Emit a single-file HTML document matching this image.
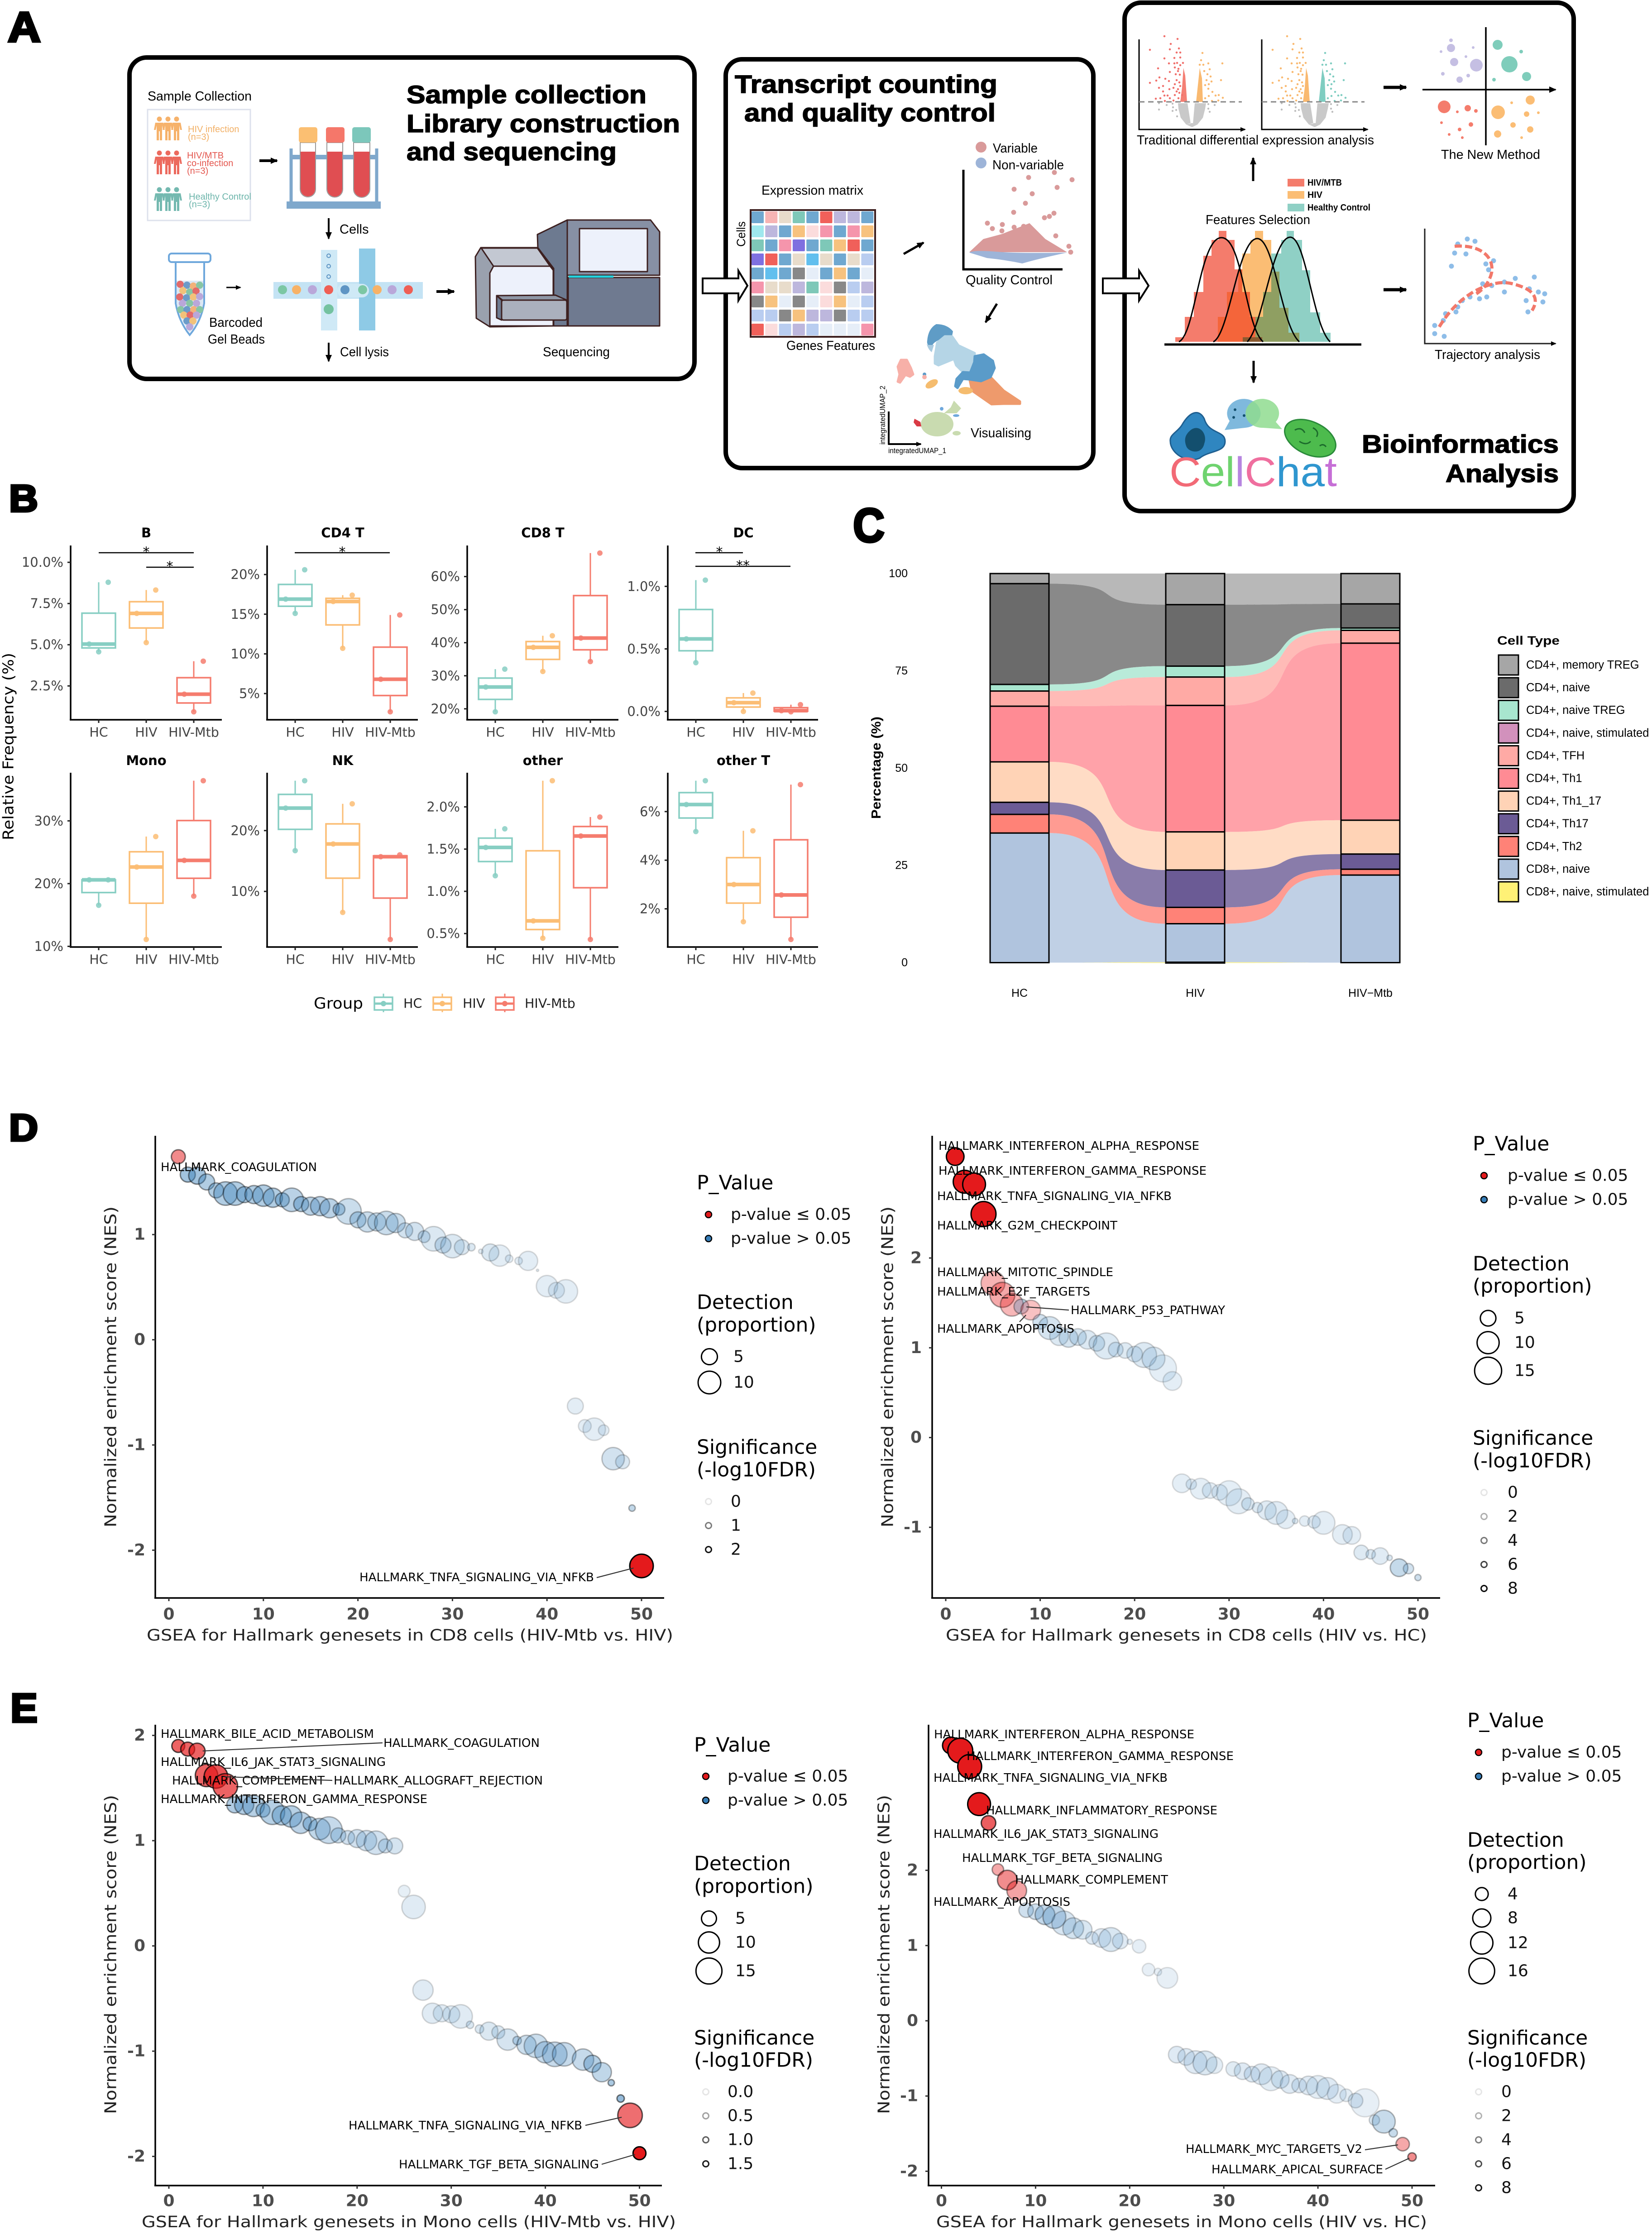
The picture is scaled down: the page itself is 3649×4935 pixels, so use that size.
<!DOCTYPE html>
<html lang="en">
<head>
<meta charset="utf-8">
<title>Single-cell analysis of HIV and HIV-Mtb co-infection</title>
<style>
html,body{margin:0;padding:0;background:#fff}
svg{display:block;font-family:"Liberation Sans",sans-serif}
.hv{font-weight:bold;stroke:#000;stroke-width:1.6;fill:#000}
.letter{font-weight:bold;stroke:#000;stroke-width:5;fill:#000}
</style>
</head>
<body>
<svg id="root" xmlns="http://www.w3.org/2000/svg" width="3649" height="4935" viewBox="0 0 3649 4935">
<defs>
<marker id="ah" markerUnits="userSpaceOnUse" markerWidth="20" markerHeight="20" refX="14" refY="8" orient="auto"><path d="M0 1L16 8L0 15Z" fill="#000"/></marker>
<marker id="ahs" markerUnits="userSpaceOnUse" markerWidth="14" markerHeight="12" refX="10" refY="6" orient="auto"><path d="M0 1L12 6L0 11Z" fill="#000"/></marker>
<g id="person"><circle cx="0" cy="5" r="5.5"/><path d="M-9 13H9L12 29H8L6 19V52H1V32H-1V52H-6V19L-8 29H-12Z"/></g>
<g id="trio"><use href="#person" x="-19"/><use href="#person" x="0"/><use href="#person" x="19"/></g>
<path id="vdots-left" fill="none" stroke-width="4.6" stroke-linecap="round" d="M2540 110h0M2572 80h0M2601 86h0M2586 97h0M2604 107h0M2584 109h0M2599 116h0M2607 116h0M2572 129h0M2594 128h0M2607 127h0M2582 140h0M2594 140h0M2600 139h0M2607 144h0M2613 139h0M2558 151h0M2595 149h0M2603 152h0M2584 159h0M2602 157h0M2597 164h0M2561 171h0M2574 174h0M2554 178h0M2582 179h0M2540 183h0M2599 177h0M2605 182h0M2595 186h0M2569 190h0M2560 194h0M2583 197h0M2592 194h0M2602 197h0M2569 202h0M2599 202h0M2572 211h0M2579 211h0M2584 217h0M2595 210h0M2553 218h0M2563 217h0M2573 223h0M2592 222h0M2603 217h0M2606 165h0M2607 190h0M2605 205h0M2611 210h0"/>
<path id="vdots-right" fill="none" stroke-width="4.6" stroke-linecap="round" d="M2656 117h0M2653 133h0M2650 143h0M2658 143h0M2669 140h0M2700 140h0M2672 153h0M2660 157h0M2667 164h0M2674 169h0M2665 177h0M2697 177h0M2676 180h0M2670 186h0M2662 188h0M2669 196h0M2678 203h0M2685 211h0M2692 210h0M2701 216h0M2670 212h0M2662 217h0M2691 222h0M2677 223h0"/>
<g id="vgray"><path d="M2623 228L2630 273L2620 275L2608 260L2603 240L2602 228ZM2639 228L2635 273L2645 275L2657 260L2662 240L2664 228ZM2620 275L2633 281L2645 275L2635 272L2630 272Z" fill="#c9c9c9"/><path fill="none" stroke="#bdbdbd" stroke-width="4.4" stroke-linecap="round" d="M2560 228h0M2560 242h0M2577 232h0M2590 229h0M2591 237h0M2590 245h0M2598 243h0M2600 257h0M2669 230h0M2669 240h0M2672 247h0M2683 232h0"/></g>
</defs>
<rect x="0" y="0" width="3649" height="4935" fill="#fff"/>

<!-- PANEL A -->
<g id="panel-a">
<text class="letter" x="17" y="92" font-size="94" textLength="73" lengthAdjust="spacingAndGlyphs">A</text>

<rect x="286" y="127" width="1248" height="710" rx="38" fill="#fff" stroke="#000" stroke-width="10"/>
<text x="326" y="222" font-size="29" textLength="230" lengthAdjust="spacingAndGlyphs">Sample Collection</text>
<rect x="326" y="242" width="227" height="245" fill="#fff" stroke="#dde1ec" stroke-width="3"/>
<use href="#trio" x="371" y="258" fill="#f6b26b"/>
<use href="#trio" x="371" y="333" fill="#ec6a5e"/>
<use href="#trio" x="371" y="414" fill="#74b9b0"/>
<text x="415" y="292" font-size="20" fill="#f2b066">HIV infection</text>
<text x="415" y="309" font-size="20" fill="#f2b066">(n=3)</text>
<text x="413" y="350" font-size="20" fill="#e4574f">HIV/MTB</text>
<text x="413" y="367" font-size="20" fill="#e4574f">co-infection</text>
<text x="413" y="384" font-size="20" fill="#e4574f">(n=3)</text>
<text x="417" y="441" font-size="20" fill="#6db5ab">Healthy Control</text>
<text x="417" y="458" font-size="20" fill="#6db5ab">(n=3)</text>
<path d="M573 355H612" stroke="#000" stroke-width="6" marker-end="url(#ah)"/>

<g>
<path d="M643 328V450M832 328V450" stroke="#7fa8cc" stroke-width="7"/>
<rect x="640" y="342" width="195" height="10" fill="#7fa8cc"/>
<rect x="633" y="445" width="208" height="16" fill="#7fa8cc"/>
<path d="M663 315H697V418a17 17 0 0 1-34 0Z" fill="#fff" stroke="#999" stroke-width="2"/>
<path d="M722 315H757V418a17 17 0 0 1-35 0Z" fill="#fff" stroke="#999" stroke-width="2"/>
<path d="M781 315H817V418a18 18 0 0 1-36 0Z" fill="#fff" stroke="#999" stroke-width="2"/>
<path d="M664 335H696V418a16 16 0 0 1-32 0Z" fill="#e04e52"/>
<path d="M723 335H756V418a16 16 0 0 1-33 0Z" fill="#e04e52"/>
<path d="M782 335H816V418a17 17 0 0 1-34 0Z" fill="#e04e52"/>
<rect x="660" y="281" width="41" height="34" rx="5" fill="#fbbf72"/>
<rect x="720" y="281" width="41" height="34" rx="5" fill="#f5776a"/>
<rect x="778" y="281" width="41" height="34" rx="5" fill="#7cc7bb"/>
</g>
<path d="M726 482V527" stroke="#000" stroke-width="4" marker-end="url(#ah)"/>
<text x="750" y="516" font-size="29">Cells</text>

<g>
<rect x="373" y="560" width="92" height="19" rx="6" fill="#fff" stroke="#6fa8dc" stroke-width="4"/>
<path d="M388 579V670Q395 710 419 740Q444 710 451 670V579Z" fill="#fff" stroke="#6fa8dc" stroke-width="4"/>
<path d="M390 620H449V670Q442 705 419 735Q397 705 390 670Z" fill="#dbe7f3"/>
<g>
<circle cx="398" cy="628" r="8" fill="#e26a6a"/><circle cx="413" cy="630" r="8" fill="#6c9bc9"/><circle cx="427" cy="632" r="8" fill="#f2b27a"/><circle cx="441" cy="630" r="8" fill="#87c5a4"/>
<circle cx="404" cy="642" r="8" fill="#f2c27a"/><circle cx="419" cy="645" r="8" fill="#87c5a4"/><circle cx="433" cy="643" r="8" fill="#e26a6a"/>
<circle cx="397" cy="656" r="8" fill="#e26a6a"/><circle cx="412" cy="658" r="8" fill="#6c9bc9"/><circle cx="427" cy="656" r="8" fill="#f2c27a"/><circle cx="441" cy="655" r="8" fill="#b9a7d9"/>
<circle cx="403" cy="670" r="8" fill="#b9a7d9"/><circle cx="419" cy="670" r="8" fill="#87c5a4"/><circle cx="434" cy="670" r="8" fill="#b9a7d9"/>
<circle cx="399" cy="684" r="8" fill="#87c5a4"/><circle cx="413" cy="684" r="8" fill="#6c9bc9"/><circle cx="428" cy="684" r="8" fill="#f2b27a"/><circle cx="441" cy="684" r="8" fill="#87c5a4"/>
<circle cx="406" cy="696" r="8" fill="#f2c27a"/><circle cx="420" cy="696" r="8" fill="#e26a6a"/><circle cx="434" cy="696" r="8" fill="#b9a7d9"/>
<circle cx="413" cy="709" r="8" fill="#6c9bc9"/><circle cx="426" cy="709" r="8" fill="#f2c27a"/><circle cx="419" cy="722" r="8" fill="#b9a7d9"/>
</g>
</g>
<text x="462" y="722" font-size="29" textLength="118" lengthAdjust="spacingAndGlyphs">Barcoded</text>
<text x="459" y="759" font-size="29" textLength="126" lengthAdjust="spacingAndGlyphs">Gel Beads</text>
<path d="M500 635H531" stroke="#000" stroke-width="3" marker-end="url(#ahs)"/>

<g>
<rect x="604" y="623" width="330" height="37" fill="#c4e3f4"/>
<rect x="709" y="552" width="36" height="178" fill="#cfe9f6"/>
<rect x="793" y="549" width="36" height="181" fill="#8ecae6"/>
<rect x="745" y="627" width="70" height="30" rx="15" fill="#cfe9f6"/>
<circle cx="624" cy="640" r="10" fill="#7cc7a4"/><circle cx="655" cy="640" r="10" fill="#f7b267"/><circle cx="690" cy="640" r="10" fill="#b9a7d9"/><circle cx="726" cy="640" r="10" fill="#ef5f55"/><circle cx="762" cy="640" r="10" fill="#5f95c4"/><circle cx="801" cy="640" r="10" fill="#7cc7a4"/><circle cx="833" cy="640" r="10" fill="#f7b267"/><circle cx="866" cy="640" r="10" fill="#b9a7d9"/><circle cx="902" cy="640" r="10" fill="#ef5f55"/>
<circle cx="726" cy="565" r="4" fill="none" stroke="#5f95c4" stroke-width="2"/><circle cx="726" cy="588" r="4" fill="none" stroke="#5f95c4" stroke-width="2"/><circle cx="726" cy="611" r="4" fill="none" stroke="#5f95c4" stroke-width="2"/>
<circle cx="726" cy="683" r="11" fill="#74c2a0"/>
</g>
<path d="M964 644H1003" stroke="#000" stroke-width="6" marker-end="url(#ah)"/>

<g stroke="#3d2020" stroke-width="3" stroke-linejoin="round">
<path d="M1187 518L1253 486V720H1223V593L1188 547Z" fill="#6d7a90"/>
<path d="M1253 486H1437L1457 512V608H1253Z" fill="#8790a4"/>
<rect x="1280" y="505" width="150" height="95" fill="#edf1fb"/>
<rect x="1255" y="613" width="202" height="107" fill="#6f7a90"/>
<path d="M1256 611H1355" stroke="#22d3e0" stroke-width="5" fill="none"/>
<path d="M1050 567L1062 547H1187L1222 593V720L1082 722L1052 703Z" fill="#9aa1ae"/>
<path d="M1063 548H1187L1215 588H1090Z" fill="#c3c8d2"/>
<path d="M1082 603L1090 588H1215L1222 597V720H1082Z" fill="#edf1fb"/>
<path d="M1097 653L1227 652L1252 663H1110Z" fill="#8e96a5"/>
<path d="M1097 653L1108 663V707L1097 702Z" fill="#6d7a90"/>
<rect x="1108" y="663" width="144" height="44" rx="4" fill="#aab0bd"/>
</g>
<text x="1199" y="787" font-size="29" textLength="148" lengthAdjust="spacingAndGlyphs">Sequencing</text>
<path d="M726 757V798" stroke="#000" stroke-width="4" marker-end="url(#ah)"/>
<text x="751" y="787" font-size="29" textLength="108" lengthAdjust="spacingAndGlyphs">Cell lysis</text>

<text class="hv" x="898" y="228" font-size="56" textLength="530" lengthAdjust="spacingAndGlyphs">Sample collection</text>
<text class="hv" x="898" y="292" font-size="56" textLength="604" lengthAdjust="spacingAndGlyphs">Library construction</text>
<text class="hv" x="898" y="354" font-size="56" textLength="464" lengthAdjust="spacingAndGlyphs">and sequencing</text>

<rect x="1603" y="131" width="812" height="903" rx="36" fill="#fff" stroke="#000" stroke-width="10"/>
<path d="M1552 615H1631V598L1651 631L1631 664V648H1552Z" fill="#fff" stroke="#000" stroke-width="4"/>
<text class="hv" x="1623" y="205" font-size="56" textLength="580" lengthAdjust="spacingAndGlyphs">Transcript counting</text>
<text class="hv" x="1644" y="268" font-size="56" textLength="555" lengthAdjust="spacingAndGlyphs">and quality control</text>
<text x="1682" y="430" font-size="29" textLength="225" lengthAdjust="spacingAndGlyphs">Expression matrix</text>
<g id="matrix"></g>
<text x="0" y="0" font-size="27" transform="translate(1646,545) rotate(-90)" textLength="56" lengthAdjust="spacingAndGlyphs">Cells</text>
<text x="1737" y="773" font-size="29" textLength="196" lengthAdjust="spacingAndGlyphs">Genes Features</text>
<path d="M1996 561L2040 536" stroke="#000" stroke-width="5" marker-end="url(#ah)"/>
<circle cx="2167" cy="325" r="12" fill="#d99a9a"/>
<text x="2193" y="337" font-size="29" textLength="99" lengthAdjust="spacingAndGlyphs">Variable</text>
<circle cx="2167" cy="360" r="12" fill="#9db4d8"/>
<text x="2192" y="374" font-size="29" textLength="158" lengthAdjust="spacingAndGlyphs">Non-variable</text>
<g>
<path d="M2128 375V595H2347" fill="none" stroke="#000" stroke-width="5"/>
<path d="M2141 557L2172 528L2213 517L2274 493L2309 528L2357 557Z" fill="#d99a9a"/>
<path d="M2141 558Q2150 552 2200 556T2357 558Q2300 570 2258 582Q2220 574 2180 570Z" fill="#9db4d8"/>
<path fill="none" stroke="#d99a9a" stroke-width="11" stroke-linecap="round" d="M2329 381h0M2368 397h0M2272 392h0M2240 418h0M2335 414h0M2280 428h0M2265 449h0M2328 471h0M2239 469h0M2318 478h0M2307 481h0M2181 493h0M2214 496h0M2192 505h0M2213 510h0M2332 521h0M2361 544h0M2365 557h0M2240 502h0M2261 500h0"/>
</g>
<text x="2133" y="628" font-size="29" textLength="192" lengthAdjust="spacingAndGlyphs">Quality Control</text>
<path d="M2202 671L2177 712" stroke="#000" stroke-width="5" marker-end="url(#ah)"/>
<g stroke-linejoin="round" stroke-width="5">
<path d="M2050 762L2063 762L2058 778Q2050 772 2047 760Z" fill="#a9cbe0"/>
<path d="M2048 753Q2050 726 2068 716Q2092 716 2105 732L2103 742Q2085 745 2072 752Q2062 757 2060 762L2050 762Q2047 758 2048 753Z" fill="#5f9cc6"/>
<path d="M2070 757L2087 743H2103L2117 763L2153 780L2152 800L2143 823L2127 822L2112 807L2107 793L2073 807L2065 803V787Z" fill="#b5d5e6" stroke="#b5d5e6"/>
<path d="M2142 840L2167 842L2190 835L2217 863L2253 887V892H2217L2190 893L2147 863Z" fill="#ee9a6c" stroke="#ee9a6c"/>
<path d="M2153 787L2173 783L2193 797L2197 813L2188 833L2167 842L2140 838L2127 837L2115 857L2110 853L2113 837L2127 822L2143 823L2152 800Z" fill="#5a9bc9" stroke="#5a9bc9"/>
<ellipse cx="2133" cy="863" rx="16" ry="8" fill="#f5bc6e"/>
<path d="M1983 810L1990 795H2003L2012 813L2017 827L2010 832L2000 828L1988 845L1983 843L1987 827Z" fill="#f7b0a8" stroke="#f7b0a8"/>
<circle cx="2042" cy="827" r="4" fill="#5a9bc9"/><circle cx="2042" cy="833" r="5" fill="#f7b0a8"/>
<ellipse cx="2058" cy="848" rx="15" ry="8" transform="rotate(-30 2058 848)" fill="#f5bc6e"/>
<ellipse cx="2070" cy="937" rx="36" ry="27" fill="#c9dbb0"/>
<path d="M2107 885L2123 902L2113 913H2085L2100 900Z" fill="#c9dbb0"/>
<ellipse cx="2113" cy="957" rx="9" ry="5" fill="#c9dbb0"/>
<circle cx="2080" cy="903" r="4" fill="#6fa8dc"/><ellipse cx="2112" cy="918" rx="7" ry="3" fill="#6fa8dc"/>
<path d="M2020 925L2033 932L2035 942H2025L2018 933Z" fill="#d93a45"/>
<path d="M1963 909V981H2034" fill="none" stroke="#000" stroke-width="4" marker-end="url(#ahs)"/>
<text x="0" y="0" font-size="17" transform="translate(1955,982) rotate(-90)" textLength="130" lengthAdjust="spacingAndGlyphs">integratedUMAP_2</text>
<text x="1962" y="1001" font-size="17" textLength="128" lengthAdjust="spacingAndGlyphs">integratedUMAP_1</text>
</g>
<text x="2144" y="966" font-size="29" textLength="134" lengthAdjust="spacingAndGlyphs">Visualising</text>

<rect x="2484" y="6" width="992" height="1123" rx="36" fill="#fff" stroke="#000" stroke-width="10"/>
<path d="M2436 615H2516V598L2537 631L2516 664V648H2436Z" fill="#fff" stroke="#000" stroke-width="4"/>
<g>
<path d="M2614 150L2618 167L2622 225H2607L2611 193Z" fill="#f47f74"/><path d="M2650 150L2642 225H2657L2655 173Z" fill="#f9b970"/>
<use href="#vdots-left" stroke="#f0706c"/><use href="#vdots-right" stroke="#f9b970"/><use href="#vgray"/>
<path d="M2516 87V286H2750" fill="none" stroke="#000" stroke-width="3" marker-end="url(#ahs)"/>
<path d="M2516 225H2743" stroke="#888" stroke-width="3" stroke-dasharray="12 8"/>
</g>
<g>
<g transform="translate(271,0)"><path d="M2614 150L2618 167L2622 225H2607L2611 193Z" fill="#f9b970"/><path d="M2650 150L2642 225H2657L2655 173Z" fill="#7fcdc1"/>
<use href="#vdots-left" stroke="#f9b970"/><use href="#vdots-right" stroke="#7fcdc1"/><use href="#vgray"/>
<path d="M2516 87V286H2750" fill="none" stroke="#000" stroke-width="3" marker-end="url(#ahs)"/>
<path d="M2516 225H2743" stroke="#888" stroke-width="3" stroke-dasharray="12 8"/></g>
</g>
<text x="2511" y="319" font-size="29" textLength="524" lengthAdjust="spacingAndGlyphs">Traditional differential expression analysis</text>
<path d="M3056 193H3106" stroke="#000" stroke-width="7" marker-end="url(#ah)"/>
<g>
<path d="M3282 321V60M3142 198H3436" stroke="#000" stroke-width="3.5" marker-end="url(#ah)" fill="none"/>
<g fill="#c5bfe3"><circle cx="3205" cy="106" r="9"/><circle cx="3212" cy="137" r="9"/><circle cx="3261" cy="144" r="14"/><circle cx="3224" cy="176" r="7"/><circle cx="3187" cy="163" r="4"/><circle cx="3243" cy="167" r="4"/><circle cx="3238" cy="125" r="3"/><circle cx="3254" cy="105" r="3"/><circle cx="3183" cy="114" r="3"/><circle cx="3205" cy="89" r="4"/></g>
<g fill="#7fcdbb"><circle cx="3308" cy="99" r="11"/><circle cx="3334" cy="142" r="18"/><circle cx="3372" cy="169" r="10"/><circle cx="3360" cy="114" r="4"/><circle cx="3300" cy="176" r="4"/></g>
<g fill="#f47c6c"><circle cx="3190" cy="236" r="14"/><circle cx="3242" cy="239" r="7"/><circle cx="3260" cy="245" r="4"/><circle cx="3219" cy="247" r="3"/><circle cx="3249" cy="275" r="5"/><circle cx="3224" cy="286" r="4"/><circle cx="3184" cy="271" r="3"/><circle cx="3201" cy="297" r="3"/><circle cx="3230" cy="304" r="3"/></g>
<g fill="#fbbd74"><circle cx="3309" cy="248" r="15"/><circle cx="3380" cy="221" r="10"/><circle cx="3372" cy="252" r="6"/><circle cx="3342" cy="276" r="6"/><circle cx="3380" cy="286" r="7"/><circle cx="3308" cy="296" r="8"/><circle cx="3361" cy="304" r="3"/><circle cx="3398" cy="249" r="3"/><circle cx="3339" cy="227" r="3"/></g>
</g>
<text x="3183" y="351" font-size="29" textLength="219" lengthAdjust="spacingAndGlyphs">The New Method</text>
<path d="M2768 400V349" stroke="#000" stroke-width="5" marker-end="url(#ah)"/>
<rect x="2844" y="395" width="37" height="17" fill="#f47c6c"/>
<rect x="2844" y="422" width="37" height="17" fill="#fbbd74"/>
<rect x="2844" y="450" width="37" height="17" fill="#8fd0c5"/>
<text x="2888" y="410" font-size="20" textLength="76" lengthAdjust="spacingAndGlyphs" font-weight="bold">HIV/MTB</text>
<text x="2888" y="437" font-size="20" textLength="33" lengthAdjust="spacingAndGlyphs" font-weight="bold">HIV</text>
<text x="2888" y="465" font-size="20" textLength="139" lengthAdjust="spacingAndGlyphs" font-weight="bold">Healthy Control</text>
<text x="2663" y="495" font-size="29" textLength="231" lengthAdjust="spacingAndGlyphs">Features Selection</text>
<g>
<path d="M2596 755V745H2617V700H2637V645H2658V565H2676V530H2692V510H2709V530H2727V595H2744V645H2761V700H2777V745H2788V755Z" fill="#f47c6c"/>
<path d="M2706 755V700H2724V645H2744V560H2762V530H2772V510H2790V530H2808V600H2826V680H2846V735H2870V755Z" fill="#fbbd74"/>
<path d="M2754 755V745H2773V700H2790V645H2808V560H2830V530H2842V510H2858V530H2876V597H2894V690H2916V735H2939V755Z" fill="#8fd0c5"/>
<path d="M2690 755V700H2710V645H2735V595H2744V645H2761V700H2777V745H2788V755Z" fill="#f4653a"/>
<path d="M2762 755V745H2773V700H2790V645H2808V600H2826V680H2846V735H2870V755Z" fill="#8f9f62"/>
<path d="M2745 755V745H2788V755Z" fill="#8a5a30"/>
<path d="M2604 755C2640 740 2650 525 2698 525C2745 525 2750 720 2790 755M2680 755C2715 740 2735 527 2777 527C2815 527 2830 720 2870 755M2755 755C2790 720 2810 524 2850 524C2885 524 2900 720 2938 755" fill="none" stroke="#000" stroke-width="3"/>
<path d="M2572 761H3007" stroke="#000" stroke-width="5"/>
</g>
<path d="M3056 640H3106" stroke="#000" stroke-width="7" marker-end="url(#ah)"/>
<g>
<path d="M3147 505V759H3436" fill="none" stroke="#222" stroke-width="3" marker-end="url(#ahs)"/>
<path fill="none" stroke="#8ebde8" stroke-width="11" stroke-linecap="round" d="M3220 539h0M3241 528h0M3258 533h0M3213 559h0M3238 561h0M3282 583h0M3299 576h0M3206 588h0M3288 596h0M3275 627h0M3295 631h0M3323 623h0M3347 615h0M3389 612h0M3378 638h0M3412 649h0M3408 667h0M3371 664h0M3375 689h0M3247 656h0M3268 660h0M3284 656h0M3230 664h0M3220 678h0M3193 693h0M3216 689h0M3188 708h0M3169 719h0M3169 737h0M3190 743h0M3323 645h0M3398 645h0"/>
<path d="M3213 544C3260 540 3300 560 3295 601C3290 625 3275 640 3261 649" fill="none" stroke="#f2786a" stroke-width="7" stroke-dasharray="16 7"/>
<path d="M3179 722C3205 680 3230 660 3254 645C3290 625 3320 620 3345 628C3390 640 3400 660 3384 686" fill="none" stroke="#f2786a" stroke-width="7" stroke-dasharray="16 7"/>
</g>
<text x="3169" y="793" font-size="29" textLength="233" lengthAdjust="spacingAndGlyphs">Trajectory analysis</text>
<path d="M2769 797V845" stroke="#000" stroke-width="5" marker-end="url(#ah)"/>
<g>
<path d="M2610 940C2630 905 2650 905 2660 925C2670 960 2706 950 2706 975C2706 1000 2670 995 2650 1012C2620 1025 2585 1000 2585 975C2583 960 2600 955 2610 940Z" fill="#2f86c0" stroke="#1f5f90" stroke-width="3"/>
<path d="M2630 950C2650 935 2668 960 2660 980C2655 1005 2625 1000 2620 985C2615 970 2618 960 2630 950Z" fill="#134f6e"/>
<path d="M2705 950L2716 930A37 32 0 1 1 2750 945Z" fill="#7fb9dd"/>
<path d="M2832 948L2818 932A37 32 0 1 0 2790 945Z" fill="#8fdc8f" fill-opacity=".85"/>
<circle cx="2728" cy="905" r="3" fill="#134f6e"/><circle cx="2748" cy="918" r="3" fill="#134f6e"/><circle cx="2725" cy="922" r="3" fill="#134f6e"/>
<ellipse cx="2894" cy="968" rx="60" ry="36" transform="rotate(25 2894 968)" fill="#4dbb4d" stroke="#2a8a3a" stroke-width="3"/>
<path d="M2860 950q15 -8 22 6M2900 945q15 8 8 20M2870 975q15 10 25 0M2915 985q8 -6 14 2" fill="none" stroke="#1c6b2c" stroke-width="3"/>
</g>
<text x="2583" y="1074" font-size="92" textLength="370" lengthAdjust="spacingAndGlyphs"><tspan fill="#f26a76">C</tspan><tspan fill="#6fd36f">e</tspan><tspan fill="#6fd36f">l</tspan><tspan fill="#b685e0">l</tspan><tspan fill="#ef6f9f">C</tspan><tspan fill="#2f96cf">h</tspan><tspan fill="#2f96cf">a</tspan><tspan fill="#c66fd6">t</tspan></text>
<text class="hv" x="3008" y="1000" font-size="56" textLength="435" lengthAdjust="spacingAndGlyphs">Bioinformatics</text>
<text class="hv" x="3193" y="1065" font-size="56" textLength="250" lengthAdjust="spacingAndGlyphs">Analysis</text>
</g>

<!-- LETTERS -->
<text class="letter" x="20" y="1130" font-size="84" textLength="64" lengthAdjust="spacingAndGlyphs">B</text>
<text class="letter" x="1884" y="1197" font-size="106" textLength="70" lengthAdjust="spacingAndGlyphs">C</text>
<text class="letter" x="20" y="2520" font-size="84" textLength="64" lengthAdjust="spacingAndGlyphs">D</text>
<text class="letter" x="23" y="3804" font-size="90" textLength="60" lengthAdjust="spacingAndGlyphs">E</text>

<g id="panel-b"></g>
<g id="panel-c"></g>
<g id="panel-d1"></g>
<g id="panel-d2"></g>
<g id="panel-e1"></g>
<g id="panel-e2"></g>
</svg>

<script>
/* ===== Panel B data ===== */
const boxGroups = ['HC', 'HIV', 'HIV-Mtb'];
const boxFacets = ['B', 'CD4 T', 'CD8 T', 'DC', 'Mono', 'NK', 'other', 'other T'];
const samplesB = [[4.57, 5.04, 8.79], [5.13, 6.9, 8.32], [0.93, 2.0, 4.0]];
const samplesCD4 = [[15.1, 16.9, 20.6], [10.7, 16.6, 17.4], [2.7, 6.8, 14.9]];
const samplesCD8 = [[19.1, 26.6, 32.0], [31.3, 38.6, 42.1], [34.3, 41.4, 67.1]];
const samplesDC = [[0.39, 0.58, 1.05], [0.0, 0.07, 0.147], [-0.003, 0.006, 0.054]];
const samplesMono = [[16.55, 20.6, 20.6], [11.1, 22.65, 27.5], [18.0, 23.7, 36.4]];
const samplesNK = [[16.7, 23.7, 28.2], [6.55, 17.8, 24.4], [2.1, 15.7, 16.0]];
const samplesOther = [[1.185, 1.52, 1.74], [0.445, 0.65, 2.31], [0.43, 1.655, 1.88]];
const samplesOtherT = [[5.18, 6.29, 7.27], [1.47, 3.0, 5.21], [0.74, 2.57, 7.11]];
const boxSamples = [samplesB, samplesCD4, samplesCD8, samplesDC, samplesMono, samplesNK, samplesOther, samplesOtherT];
const bracketTopValues = [10.56, 22.7, 67.1, 1.266, null, null, null, null];
const tickValues = [[2.5, 5, 7.5, 10], [5, 10, 15, 20], [20, 30, 40, 50, 60], [0, 0.5, 1], [10, 20, 30], [10, 20], [0.5, 1, 1.5, 2], [2, 4, 6]];
const tickLabels = [['2.5%', '5.0%', '7.5%', '10.0%'], ['5%', '10%', '15%', '20%'], ['20%', '30%', '40%', '50%', '60%'], ['0.0%', '0.5%', '1.0%'], ['10%', '20%', '30%'], ['10%', '20%'], ['0.5%', '1.0%', '1.5%', '2.0%'], ['2%', '4%', '6%']];

/* ===== Panel C data (percent, top of stack to bottom) ===== */
const cellTypes = ['CD4+, memory TREG', 'CD4+, naive', 'CD4+, naive TREG', 'CD4+, naive, stimulated', 'CD4+, TFH', 'CD4+, Th1', 'CD4+, Th1_17', 'CD4+, Th17', 'CD4+, Th2', 'CD8+, naive', 'CD8+, naive, stimulated'];
const alluvialGroups = ['HC', 'HIV', 'HIV\u2212Mtb'];
const pctHC = [2.6, 25.9, 1.7, 0, 3.9, 14.3, 10.4, 3.1, 4.8, 33.3, 0];
const pctHIV = [8.0, 15.8, 2.8, 0, 7.3, 32.5, 9.8, 9.6, 4.2, 9.9, 0.2];
const pctMtb = [7.8, 6.2, 0.6, 0, 3.3, 45.5, 8.7, 3.9, 1.5, 22.5, 0];
const percentTicks = [0, 25, 50, 75, 100];

/* ===== Panels D and E data (index = rank - 1) ===== */
const d1Nes = [1.74,1.57,1.56,1.50,1.42,1.39,1.39,1.38,1.38,1.37,1.35,1.33,1.33,1.29,1.27,1.27,1.25,1.24,1.22,1.14,1.12,1.12,1.11,1.11,1.04,1.03,.98,.96,.90,.89,.88,.88,.84,.83,.80,.77,.75,.75,.66,.51,.47,.46,-.63,-.82,-.85,-.86,-1.13,-1.16,-1.60,-2.15];
const d1Detection = [3.8,4.4,5.7,5.0,4.4,10.8,10.8,5.0,6.4,8.9,7.2,3.8,10.8,4.4,6.4,7.2,7.2,2.7,12.8,5.0,8.0,6.4,10.8,7.2,4.4,6.4,2.7,11.8,5.0,10.8,4.4,1.1,.4,5.7,8.9,1.1,1.1,7.2,.1,8.9,5.0,10.8,5.0,3.2,9.8,2.2,9.8,3.8,.8,10.8];
const d1Significance = [1.0,.9,.9,.7,.7,.7,.7,.7,.7,.7,.7,.7,.6,.7,.6,.6,.6,.6,.4,.5,.4,.4,.4,.4,.3,.3,.3,.2,.3,.2,.2,.2,.1,.2,.1,.1,.1,.1,.1,.1,.1,.1,.1,.1,.1,.1,.3,.2,.5,2.2];
const d1RedRanks = [1, 50];

const d2Nes = [3.13,2.85,2.82,2.49,1.72,1.59,1.48,1.46,1.42,1.29,1.22,1.13,1.11,1.12,1.09,1.05,1.02,.98,.97,.93,.92,.88,.77,.63,-.51,-.52,-.57,-.59,-.61,-.62,-.71,-.74,-.78,-.81,-.84,-.91,-.93,-.93,-.94,-.95,null,-1.08,-1.09,-1.28,-1.30,-1.32,-1.34,-1.45,-1.46,-1.56];
const d2Detection = [6.4,10.7,10.7,12.8,11.7,12.8,10.7,4.4,8.0,4.4,10.7,7.2,7.2,5.7,7.2,5.0,13.9,4.4,5.0,5.0,12.8,10.7,15.0,7.2,7.2,2.2,8.9,5.0,5.0,12.8,12.8,3.2,2.2,7.2,10.7,7.2,.6,2.2,3.2,10.7,null,8.0,6.4,4.4,1.8,5.7,.6,6.4,2.2,.8];
const d2Significance = [8.5,8.5,8.5,8.5,2.2,2.6,2,1.8,1.6,1.2,1,.7,1,.9,.7,.9,.7,.7,.6,.7,.7,.7,.3,.3,.3,.4,.3,.4,.4,.3,.4,.7,.6,.5,.5,.4,.6,.4,.5,.4,null,.4,.4,.6,.7,.5,.7,1.8,1.2,1.4];
const d2RedRanks = [1, 2, 3, 4, 5, 6, 7, 9];

const e1Nes = [1.90,1.87,1.85,1.62,1.61,1.52,1.34,1.34,1.33,1.29,1.27,1.24,1.23,1.17,1.16,1.11,1.10,1.05,1.03,1.02,1.0,.98,.95,.95,.52,.37,-.42,-.64,-.64,-.65,-.67,-.75,-.79,-.81,-.82,-.89,-.90,-.94,-.95,-1.01,-1.03,-1.03,null,-1.08,-1.12,-1.20,-1.30,-1.45,-1.61,-1.97];
const e1Detection = [3.7,4.3,5.7,11.2,12.3,13.4,5.7,8.2,10.2,4.3,13.4,8.2,10.2,10.2,4.3,10.2,15.9,5.0,4.3,7.3,9.2,12.3,4.3,5.7,3.1,12.3,9.2,9.2,6.5,6.5,12.3,1.2,1.6,7.3,3.7,10.2,1.6,8.2,12.3,10.2,13.4,12.3,null,10.2,6.5,8.2,.9,1.2,13.4,3.7];
const e1Significance = [1.1,1.1,1.1,1.1,1.2,1.1,.55,.55,.5,.5,.5,.5,.5,.45,.5,.4,.35,.3,.25,.25,.25,.25,.25,.2,.05,.1,.1,.1,.1,.1,.1,.15,.15,.15,.15,.2,.3,.3,.3,.35,.35,.35,null,.35,.5,.4,.6,.8,1.0,1.7];
const e1RedRanks = [1, 2, 3, 4, 5, 6, 49, 50];

const e2Nes = [3.66,3.59,3.38,2.88,2.63,2.01,1.87,1.73,1.47,1.45,1.41,1.38,1.30,1.23,1.21,1.10,1.10,1.08,1.06,1.05,.99,.68,.65,.57,-.45,-.48,-.55,-.56,-.59,null,-.64,-.67,-.71,-.71,-.77,-.78,-.84,-.86,-.86,-.88,-.90,-.97,-.99,-1.06,-1.09,-1.32,-1.34,-1.49,-1.64,-1.81];
const e2Detection = [6.7,15,13.8,12.6,5.1,3.2,9.4,9.4,5.1,5.9,9.4,12.6,13.8,10.4,8.5,3.8,8.5,13.8,5.9,.65,4.4,3.8,1.3,10.4,6.7,6.7,12.6,13.8,6.7,null,5.1,6.7,5.9,10.4,13.8,7.5,8.5,5.1,8.5,12.6,11.5,8.5,3.8,5.1,19,2.6,12.6,1.7,4.4,1.7];
const e2Significance = [9,9,9,9,6,2.8,4,3,1.4,1.4,2,2,1,1.2,.9,.7,.6,.9,.6,.3,.3,.2,.2,.2,.6,.6,.6,.8,.4,null,.5,.6,.7,.6,.4,.7,.6,.6,.6,.4,.6,.3,.4,.7,.2,.9,1.8,1.8,2.8,4];
const e2RedRanks = [1, 2, 3, 4, 5, 6, 7, 8, 49, 50];

const rankTicks = [0, 10, 20, 30, 40, 50];

/* ===== helpers ===== */
const NS = 'http://www.w3.org/2000/svg';
const DJ = '"DejaVu Sans",sans-serif';
const LS = '"Liberation Sans",sans-serif';

function mk(parent, tag, name, attrs) {
  const el = document.createElementNS(NS, tag);
  for (const k in attrs) { if (attrs[k] !== undefined) el.setAttribute(k, attrs[k]); }
  
  
  parent.appendChild(el);
  return el;
}
function line(parent, name, x1, y1, x2, y2, stroke, w) {
  return mk(parent, 'line', name, { x1: x1, y1: y1, x2: x2, y2: y2, stroke: stroke, 'stroke-width': w });
}
function txt(parent, name, s, x, y, o) {
  o = o || {};
  const el = mk(parent, 'text', name, {
    'font-family': o.fam || DJ, 'font-size': o.size || 29, 'font-weight': o.weight,
    'text-anchor': o.anchor || 'start', 'dominant-baseline': 'central', fill: o.fill || '#000',
    textLength: o.len, lengthAdjust: o.len ? 'spacingAndGlyphs' : undefined,
    x: o.rot ? 0 : x, y: o.rot ? 0 : y,
    transform: o.rot ? 'translate(' + x + ',' + y + ') rotate(' + o.rot + ')' : undefined
  });
  el.textContent = s;
  return el;
}

/* ===== Matrix illustration ===== */
(function () {
  const b = '#6fa8d0', p = '#f7b4b4', e = '#e8dccb', t = '#7ec8b8', r = '#f0605a', l = '#bdb7dd', c = '#9fe8ee', o = '#f7c27e', q = '#fbdcdc', k = '#f595ac', u = '#7f70e0', g = '#888888', w = '#e6eef8', s = '#62bfee', n = '#b9cdf0';
  const rows = [[b,p,e,t,b,r,l,l,b],[c,l,b,o,q,k,b,k,o],[t,b,k,u,b,t,o,r,b],[u,r,b,e,s,e,b,e,n],[b,s,b,g,w,b,o,b,w],[k,e,e,l,t,q,g,n,l],[g,o,w,g,w,q,o,w,n],[n,n,g,o,l,l,g,n,n],[r,q,n,l,n,w,w,w,k]];
  const host = document.getElementById('matrix');
  mk(host, 'rect', 'matrix-frame', { x: 1658, y: 464, width: 275, height: 280, fill: '#fff', stroke: '#3d2020', 'stroke-width': 4 });
  rows.forEach(function (row, i) {
    row.forEach(function (col, j) {
      mk(host, 'rect', 'matrix-cell', { x: 1660 + j * 30.3, y: 467 + i * 31, width: 27, height: 26, rx: 2, fill: col });
    });
  });
})();

/* ===== Panel B ===== */
(function () {
  const host = document.getElementById('panel-b');
  const colors = ['#87cec3', '#fbbd74', '#f57c6e'];
  const lefts = [156, 590, 1032, 1475];
  const rights = [490, 923, 1366, 1807];
  const catOffset = [62, 167, 272];
  const rowTop = [1205, 1707];
  const rowBottom = [1590, 2092];
  const rowHigh = [1221.8, 1724.6];
  const rowLow = [1572.4, 2075.3];
  const jitter = [0, -21, 21];

  function quantile(sorted, q) {
    const pos = (sorted.length - 1) * q;
    const lo = Math.floor(pos), hi = Math.ceil(pos);
    return sorted[lo] + (sorted[hi] - sorted[lo]) * (pos - lo);
  }

  boxFacets.forEach(function (title, f) {
    const col = f % 4, row = f < 4 ? 0 : 1;
    const left = lefts[col], right = rights[col];
    const all = [].concat.apply([], boxSamples[f]);
    const dMin = Math.min.apply(null, all);
    const dMax = bracketTopValues[f] !== null ? bracketTopValues[f] : Math.max.apply(null, all);
    const yS = function (v) { return rowLow[row] - (v - dMin) / (dMax - dMin) * (rowLow[row] - rowHigh[row]); };
    const g = mk(host, 'g', 'facet-' + title.toLowerCase().replace(/\s+/g, '-'), {});

    txt(g, 'facet-title', title, (left + 167), row ? 1680 : 1177, { size: 29, weight: 'bold', anchor: 'middle' });
    line(g, 'y-axis', left, rowTop[row], left, rowBottom[row], '#000', 3.5);
    line(g, 'x-axis', left - 2, rowBottom[row], right, rowBottom[row], '#000', 3.5);

    tickValues[f].forEach(function (v, i) {
      line(g, 'y-tick', left - 7, yS(v), left, yS(v), '#222', 3);
      txt(g, 'y-tick-label', tickLabels[f][i], left - 16, yS(v), { size: 29, anchor: 'end', fill: '#444' });
    });

    boxGroups.forEach(function (grp, i) {
      const cx = left + catOffset[i];
      line(g, 'x-tick', cx, rowBottom[row], cx, rowBottom[row] + 7, '#222', 3);
      txt(g, 'x-tick-label', grp, cx, row ? 2120 : 1618, { size: 28.5, anchor: 'middle', fill: '#444' });

      const vals = boxSamples[f][i];
      const s = vals.slice().sort(function (a, b) { return a - b; });
      const q1 = quantile(s, .25), q2 = quantile(s, .5), q3 = quantile(s, .75);
      line(g, 'whisker-low', cx, yS(s[0]), cx, yS(q1), colors[i], 3);
      line(g, 'whisker-high', cx, yS(q3), cx, yS(s[2]), colors[i], 3);
      mk(g, 'rect', 'box-' + grp.toLowerCase(), { x: cx - 37, y: yS(q3), width: 74, height: Math.max(1, yS(q1) - yS(q3)), fill: 'none', stroke: colors[i], 'stroke-width': 3.5 });
      line(g, 'median', cx - 37, yS(q2), cx + 37, yS(q2), colors[i], 8);
      vals.forEach(function (v, j) {
        mk(g, 'circle', 'sample-point', { cx: cx + jitter[j], cy: yS(v), r: 6, fill: colors[i], 'fill-opacity': .85 });
      });
    });
  });

  function bracket(x1, x2, y, stars, starX) {
    line(host, 'significance-bracket', x1, y, x2, y, '#000', 2.6);
    txt(host, 'significance-stars', stars, starX, y - 1, { size: 30, anchor: 'middle' });
  }
  bracket(218, 428, 1221, '*', 323);
  bracket(323, 428, 1253, '*', 375);
  bracket(651, 861, 1221, '*', 756);
  bracket(1536, 1641, 1221, '*', 1589);
  bracket(1536, 1746, 1251, '**', 1641);

  txt(host, 'y-axis-title', 'Relative Frequency (%)', 18, 1649, { size: 33, rot: -90, anchor: 'middle', len: 414 });
  txt(host, 'legend-title', 'Group', 693, 2217, { size: 34, len: 109 });
  const keyX = [847, 977, 1115];
  const labelX = [891, 1022, 1159];
  boxGroups.forEach(function (grp, i) {
    const k = mk(host, 'g', 'legend-entry-' + grp.toLowerCase(), {});
    line(k, 'legend-whisker', keyX[i], 2195, keyX[i], 2236, colors[i], 3);
    mk(k, 'rect', 'legend-box', { x: keyX[i] - 20, y: 2203, width: 40, height: 28, fill: '#fff', stroke: colors[i], 'stroke-width': 3.5 });
    line(k, 'legend-median', keyX[i] - 20, 2217, keyX[i] + 20, 2217, colors[i], 5);
    mk(k, 'circle', 'legend-point', { cx: keyX[i], cy: 2217, r: 6, fill: colors[i] });
    txt(k, 'legend-label', grp, labelX[i], 2217, { size: 28.5, fill: '#222' });
  });
})();

/* ===== Panel C ===== */
(function () {
  const host = document.getElementById('panel-c');
  const layerColors = ['#a6a6a6', '#6b6b6b', '#a8e6cf', '#d291bc', '#ffaaa5', '#ff8b94', '#ffd3b6', '#6b5b95', '#ff8277', '#b0c4de', '#fff176'];
  const barLeft = [2187, 2575, 2962];
  const barW = 130;
  const yS = function (v) { return 2126.5 - v * 8.595; };
  const cols = [pctHC, pctHIV, pctMtb];
  const stacks = cols.map(function (arr) {
    let c = 100;
    return arr.map(function (v) { const top = c; c -= v; return [top, c]; });
  });
  for (let s = 0; s < 2; s++) {
    const x0 = barLeft[s] + barW, x1 = barLeft[s + 1], dx = x1 - x0;
    cellTypes.forEach(function (ct, l) {
      const a = stacks[s][l], b = stacks[s + 1][l];
      const cp1 = x0 + .75 * dx, cp2 = x1 - .75 * dx;
      const d = 'M' + x0 + ' ' + yS(a[0]) + 'C' + cp1 + ' ' + yS(a[0]) + ' ' + cp2 + ' ' + yS(b[0]) + ' ' + x1 + ' ' + yS(b[0]) +
        'V' + yS(b[1]) + 'C' + cp2 + ' ' + yS(b[1]) + ' ' + cp1 + ' ' + yS(a[1]) + ' ' + x0 + ' ' + yS(a[1]) + 'Z';
      mk(host, 'path', 'flow-' + l, { d: d, fill: layerColors[l], 'fill-opacity': .8 });
    });
  }
  cols.forEach(function (arr, s) {
    cellTypes.forEach(function (ct, l) {
      const a = stacks[s][l];
      if (arr[l] > 0) {
        mk(host, 'rect', 'stratum-' + l, { x: barLeft[s], y: yS(a[0]), width: barW, height: yS(a[1]) - yS(a[0]), fill: layerColors[l], stroke: '#000', 'stroke-width': 3 });
      }
    });
    txt(host, 'x-axis-label', alluvialGroups[s], barLeft[s] + barW / 2, 2194, { fam: LS, size: 25, anchor: 'middle' });
  });
  percentTicks.forEach(function (v) {
    txt(host, 'y-tick-label', String(v), 2005, yS(v), { fam: LS, size: 25, anchor: 'end' });
  });
  txt(host, 'y-axis-title', 'Percentage (%)', 1936, 1696, { fam: LS, size: 29, weight: 'bold', rot: -90, anchor: 'middle', len: 226 });
  txt(host, 'legend-title', 'Cell Type', 3307, 1415, { fam: LS, size: 27, weight: 'bold', len: 138 });
  cellTypes.forEach(function (ct, i) {
    const y = 1469 + i * 50.1;
    mk(host, 'rect', 'legend-key', { x: 3310, y: y - 22, width: 44, height: 44, fill: layerColors[i], stroke: '#000', 'stroke-width': 3 });
    txt(host, 'legend-label', ct, 3371, y, { fam: LS, size: 25.5 });
  });
})();

/* ===== Bubble charts ===== */
function bubbleChart(host, o) {
  const xS = function (r) { return o.x0 + r * o.xPer; };
  const yS = function (v) { return o.y0 - v * o.yPer; };
  const alpha = function (s) { return .1 + .9 * s / o.sigMax; };
  o.nes.forEach(function (v, i) {
    if (v === null) return;
    const rank = i + 1;
    const a = alpha(o.sig[i]);
    mk(host, 'circle', 'bubble-rank-' + rank, {
      cx: xS(rank), cy: yS(v), r: o.k * Math.sqrt(o.det[i]),
      fill: o.red.indexOf(rank) >= 0 ? '#e41a1c' : '#377eb8', 'fill-opacity': a,
      stroke: '#000', 'stroke-opacity': a, 'stroke-width': 3
    });
  });
  line(host, 'y-axis', o.axisX, o.axisTop, o.axisX, o.axisBottom, '#000', 3.5);
  line(host, 'x-axis', o.axisX - 2, o.axisBottom, o.axisRight, o.axisBottom, '#000', 3.5);
  rankTicks.forEach(function (t) {
    line(host, 'x-tick', xS(t), o.axisBottom, xS(t), o.axisBottom + 7, '#333', 3);
    txt(host, 'x-tick-label', String(t), xS(t), o.xLabelY, { size: 36, weight: 'bold', anchor: 'middle', fill: '#4d4d4d' });
  });
  o.yTicks.forEach(function (t) {
    line(host, 'y-tick', o.axisX - 7, yS(t), o.axisX, yS(t), '#333', 3);
    txt(host, 'y-tick-label', String(t), o.yLabelRight, yS(t), { size: 36, weight: 'bold', anchor: 'end', fill: '#4d4d4d' });
  });
  txt(host, 'x-axis-title', o.xTitle, (o.xt1 + o.xt2) / 2, o.xty, { size: 35, anchor: 'middle', len: o.xt2 - o.xt1, fill: '#222' });
  txt(host, 'y-axis-title', o.yTitle, o.ytx, (o.yt1 + o.yt2) / 2, { size: 36, rot: -90, anchor: 'middle', len: o.yt2 - o.yt1, fill: '#222' });
  return {
    label: function (s, x1, x2, y) {
      txt(host, 'gene-set-label', s, x1, y, { size: 26, len: x2 - x1 });
    },
    leader: function (lx, ly, rank) {
      const v = o.nes[rank - 1];
      const tx = xS(rank), ty = yS(v);
      const dist = Math.hypot(tx - lx, ty - ly);
      const back = .7 * o.k * Math.sqrt(o.det[rank - 1]);
      line(host, 'label-leader', lx, ly, tx - (tx - lx) / dist * back, ty - (ty - ly) / dist * back, '#333', 2.2);
    }
  };
}
function chartLegend(host, l) {
  const alpha = function (s) { return .1 + .9 * s / l.sigMax; };
  txt(host, 'legend-title-p-value', 'P_Value', l.titleX, l.pTitleY, { size: 44 });
  [['p-value \u2264 0.05', '#e41a1c'], ['p-value > 0.05', '#377eb8']].forEach(function (e, i) {
    mk(host, 'circle', 'legend-p-key', { cx: l.dotX, cy: l.pY[i], r: 7, fill: e[1], stroke: '#000', 'stroke-width': 2.5 });
    txt(host, 'legend-p-label', e[0], l.textX, l.pY[i], { size: 36, fill: '#111' });
  });
  txt(host, 'legend-title-detection', 'Detection', l.titleX, l.detT[0], { size: 44 });
  txt(host, 'legend-title-detection-unit', '(proportion)', l.titleX, l.detT[1], { size: 44 });
  l.detVals.forEach(function (v, i) {
    mk(host, 'circle', 'legend-size-key', { cx: l.detX, cy: l.detY[i], r: l.k * Math.sqrt(v), fill: '#fff', stroke: '#000', 'stroke-width': 3 });
    txt(host, 'legend-size-label', String(v), l.detTextX, l.detY[i], { size: 36, fill: '#111' });
  });
  txt(host, 'legend-title-significance', 'Significance', l.titleX, l.sigT[0], { size: 44 });
  txt(host, 'legend-title-significance-unit', '(-log10FDR)', l.titleX, l.sigT[1], { size: 44 });
  l.sigVals.forEach(function (v, i) {
    mk(host, 'circle', 'legend-alpha-key', { cx: l.dotX, cy: l.sigY[i], r: 6.5, fill: '#fff', stroke: '#000', 'stroke-opacity': alpha(parseFloat(v)), 'stroke-width': 3 });
    txt(host, 'legend-alpha-label', v, l.textX, l.sigY[i], { size: 36, fill: '#111' });
  });
}

/* Panel D, left */
(function () {
  const host = document.getElementById('panel-d1');
  const c = bubbleChart(host, {
    x0: 373, xPer: 20.88, y0: 2959.6, yPer: 232.4, axisX: 343, axisTop: 2509, axisBottom: 3530, axisRight: 1467,
    nes: d1Nes, det: d1Detection, sig: d1Significance, red: d1RedRanks, sigMax: 2.2, k: 7.9,
    yTicks: [-2, -1, 0, 1], yLabelRight: 321, xLabelY: 3566,
    xTitle: 'GSEA for Hallmark genesets in CD8 cells (HIV-Mtb vs. HIV)', xt1: 324, xt2: 1487, xty: 3613,
    yTitle: 'Normalized enrichment score (NES)', ytx: 245, yt1: 2665, yt2: 3374
  });
  c.label('HALLMARK_COAGULATION', 355, 700, 2579);
  c.label('HALLMARK_TNFA_SIGNALING_VIA_NFKB', 794, 1312, 3485);
  c.leader(1318, 3485, 50);
  chartLegend(host, {
    titleX: 1539, pTitleY: 2613, dotX: 1565, textX: 1614, pY: [2683, 2736],
    detT: [2877, 2927], detX: 1567, detTextX: 1620, detVals: [5, 10], detY: [2997, 3054], k: 7.9,
    sigT: [3197, 3247], sigVals: ['0', '1', '2'], sigY: [3317, 3370, 3423], sigMax: 2.2
  });
})();

/* Panel D, right */
(function () {
  const host = document.getElementById('panel-d2');
  const c = bubbleChart(host, {
    x0: 2089, xPer: 20.86, y0: 3175.6, yPer: 198.3, axisX: 2059, axisTop: 2509, axisBottom: 3530, axisRight: 3181,
    nes: d2Nes, det: d2Detection, sig: d2Significance, red: d2RedRanks, sigMax: 8.5, k: 7.7,
    yTicks: [-1, 0, 1, 2], yLabelRight: 2036, xLabelY: 3566,
    xTitle: 'GSEA for Hallmark genesets in CD8 cells (HIV vs. HC)', xt1: 2089, xt2: 3152, xty: 3613,
    yTitle: 'Normalized enrichment score (NES)', ytx: 1961, yt1: 2665, yt2: 3374
  });
  c.label('HALLMARK_INTERFERON_ALPHA_RESPONSE', 2073, 2649, 2532);
  c.label('HALLMARK_INTERFERON_GAMMA_RESPONSE', 2073, 2665, 2587);
  c.label('HALLMARK_TNFA_SIGNALING_VIA_NFKB', 2070, 2588, 2643);
  c.label('HALLMARK_G2M_CHECKPOINT', 2070, 2468, 2708);
  c.label('HALLMARK_MITOTIC_SPINDLE', 2070, 2459, 2811);
  c.label('HALLMARK_E2F_TARGETS', 2070, 2408, 2854);
  c.label('HALLMARK_P53_PATHWAY', 2365, 2706, 2895);
  c.label('HALLMARK_APOPTOSIS', 2070, 2373, 2936);
  c.leader(2361, 2894, 8);
  c.leader(2252, 2920, 9);
  chartLegend(host, {
    titleX: 3253, pTitleY: 2527, dotX: 3278, textX: 3330, pY: [2597, 2650],
    detT: [2792, 2841], detX: 3287, detTextX: 3345, detVals: [5, 10, 15], detY: [2912, 2966, 3028], k: 7.7,
    sigT: [3177, 3227], sigVals: ['0', '2', '4', '6', '8'], sigY: [3297, 3350, 3403, 3456, 3509], sigMax: 8.5
  });
})();

/* Panel E, left */
(function () {
  const host = document.getElementById('panel-e1');
  const c = bubbleChart(host, {
    x0: 373, xPer: 20.79, y0: 4298.6, yPer: 232.5, axisX: 343, axisTop: 3810, axisBottom: 4828, axisRight: 1462,
    nes: e1Nes, det: e1Detection, sig: e1Significance, red: e1RedRanks, sigMax: 1.7, k: 7.4,
    yTicks: [-2, -1, 0, 1, 2], yLabelRight: 321, xLabelY: 4862,
    xTitle: 'GSEA for Hallmark genesets in Mono cells (HIV-Mtb vs. HIV)', xt1: 313, xt2: 1493, xty: 4909,
    yTitle: 'Normalized enrichment score (NES)', ytx: 245, yt1: 3965, yt2: 4670
  });
  c.label('HALLMARK_BILE_ACID_METABOLISM', 355, 826, 3831);
  c.label('HALLMARK_COAGULATION', 847, 1192, 3851);
  c.label('HALLMARK_IL6_JAK_STAT3_SIGNALING', 355, 852, 3893);
  c.label('HALLMARK_COMPLEMENT', 380, 717, 3934);
  c.label('HALLMARK_ALLOGRAFT_REJECTION', 737, 1199, 3934);
  c.label('HALLMARK_INTERFERON_GAMMA_RESPONSE', 355, 944, 3975);
  c.label('HALLMARK_TNFA_SIGNALING_VIA_NFKB', 770, 1286, 4696);
  c.label('HALLMARK_TGF_BETA_SIGNALING', 881, 1323, 4782);
  c.leader(845, 3850, 3);
  c.leader(734, 3933, 5);
  c.leader(1293, 4695, 49);
  c.leader(1329, 4781, 50);
  chartLegend(host, {
    titleX: 1533, pTitleY: 3855, dotX: 1559, textX: 1607, pY: [3924, 3977],
    detT: [4117, 4167], detX: 1566, detTextX: 1624, detVals: [5, 10, 15], detY: [4238, 4291, 4354], k: 7.4,
    sigT: [4502, 4551], sigVals: ['0.0', '0.5', '1.0', '1.5'], sigY: [4621, 4674, 4727, 4780], sigMax: 1.7
  });
})();

/* Panel E, right */
(function () {
  const host = document.getElementById('panel-e2');
  const c = bubbleChart(host, {
    x0: 2079.5, xPer: 20.79, y0: 4464, yPer: 166.2, axisX: 2051, axisTop: 3810, axisBottom: 4828, axisRight: 3170,
    nes: e2Nes, det: e2Detection, sig: e2Significance, red: e2RedRanks, sigMax: 9, k: 7.1,
    yTicks: [-2, -1, 0, 1, 2], yLabelRight: 2028, xLabelY: 4862,
    xTitle: 'GSEA for Hallmark genesets in Mono cells (HIV vs. HC)', xt1: 2068, xt2: 3152, xty: 4909,
    yTitle: 'Normalized enrichment score (NES)', ytx: 1953, yt1: 3965, yt2: 4670
  });
  c.label('HALLMARK_INTERFERON_ALPHA_RESPONSE', 2063, 2638, 3832);
  c.label('HALLMARK_INTERFERON_GAMMA_RESPONSE', 2135, 2725, 3880);
  c.label('HALLMARK_TNFA_SIGNALING_VIA_NFKB', 2062, 2579, 3928);
  c.label('HALLMARK_INFLAMMATORY_RESPONSE', 2178, 2689, 4000);
  c.label('HALLMARK_IL6_JAK_STAT3_SIGNALING', 2062, 2559, 4052);
  c.label('HALLMARK_TGF_BETA_SIGNALING', 2125, 2568, 4105);
  c.label('HALLMARK_COMPLEMENT', 2242, 2580, 4153);
  c.label('HALLMARK_APOPTOSIS', 2062, 2364, 4202);
  c.label('HALLMARK_MYC_TARGETS_V2', 2619, 3009, 4748);
  c.label('HALLMARK_APICAL_SURFACE', 2676, 3055, 4793);
  c.leader(3015, 4749, 49);
  c.leader(3060, 4792, 50);
  chartLegend(host, {
    titleX: 3241, pTitleY: 3801, dotX: 3266, textX: 3316, pY: [3871, 3924],
    detT: [4065, 4114], detX: 3273, detTextX: 3330, detVals: [4, 8, 12, 16], detY: [4184, 4237, 4292, 4354], k: 7.1,
    sigT: [4502, 4551], sigVals: ['0', '2', '4', '6', '8'], sigY: [4621, 4674, 4727, 4780, 4833], sigMax: 9
  });
})();
</script>
</body>
</html>
